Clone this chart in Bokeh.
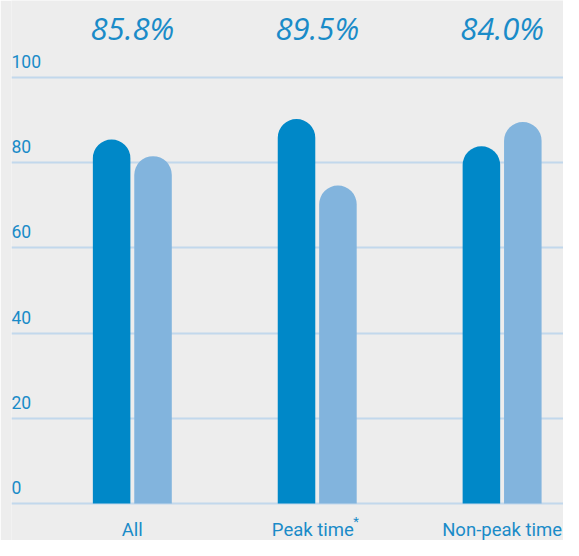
from bokeh.plotting import figure
from bokeh.models import ColumnDataSource, FixedTicker, Range1d, Grid
from bokeh.core.properties import value
from bokeh.transform import dodge
from bokeh.embed import file_html
from bokeh.resources import INLINE

# ---- data ----
categories = ["All", "Peak time", "Non-peak time"]
series_dark = [85.4, 90.2, 83.8]
series_light = [81.5, 74.6, 89.5]
top_labels = ["85.8%", "89.5%", "84.0%"]
y_ticks = [0, 20, 40, 60, 80, 100]
y_tick_labels = ["0", "20", "40", "60", "80", "100"]

BG = "#ededed"
DARK = "#0088c8"
LIGHT = "#82b4dd"
TEXT = "#1a8bc8"
GRID = "#c2d8ec"

xs = list(range(len(categories)))

p = figure(width=563, height=540,
           x_range=Range1d(-0.6535, 2.332), y_range=Range1d(-8.65, 118.0),
           x_axis_type=None, y_axis_type=None,
           output_backend="svg", toolbar_location=None,
           min_border=0, min_border_left=11)
p.background_fill_color = BG
p.border_fill_color = BG
p.outline_line_color = None

grid = Grid(dimension=1, ticker=FixedTicker(ticks=y_ticks),
            grid_line_color=GRID, grid_line_width=2)
p.add_layout(grid)

src = ColumnDataSource(dict(x=xs, dark=series_dark, light=series_light,
                            lab=top_labels, cat=categories))

bw = 0.203
off = 0.112
p.vbar(x=dodge("x", -off, range=p.x_range), top="dark", bottom=0, width=bw,
       source=src, fill_color=DARK, line_color=None,
       border_radius=(19, 19, 0, 0))
p.vbar(x=dodge("x", off, range=p.x_range), top="light", bottom=0, width=bw,
       source=src, fill_color=LIGHT, line_color=None,
       border_radius=(19, 19, 0, 0))

# percentage labels on top
p.text(x="x", y=111.6, text="lab", source=src,
       text_font=value("Open Sans"), text_font_style="italic",
       text_font_size="31px", text_color=TEXT,
       text_align="center", text_baseline="middle")

# y tick labels
tsrc = ColumnDataSource(dict(y=y_ticks, t=y_tick_labels))
p.text(x=p.x_range.start, y="y", text="t", source=tsrc,
       text_font=value("Roboto"), text_font_size="17.5px", text_color=TEXT,
       text_align="left", text_baseline="alphabetic", y_offset=-16)

# category labels
cat_src = ColumnDataSource(dict(x=xs, cat=categories,
                                star=["", "*", ""], xo=[0, -4.4, 0]))
p.text(x="x", y=0, text="cat", source=cat_src,
       text_font=value("Roboto"), text_font_size="18.5px", text_color=TEXT,
       text_align="center", text_baseline="middle", y_offset=26,
       x_offset="xo")
p.text(x="x", y=0, text="star", source=cat_src,
       text_font=value("Roboto"), text_font_size="13px", text_color=TEXT,
       text_align="left", text_baseline="middle", y_offset=18, x_offset=36)

open("out.html", "w").write(file_html(p, INLINE))
